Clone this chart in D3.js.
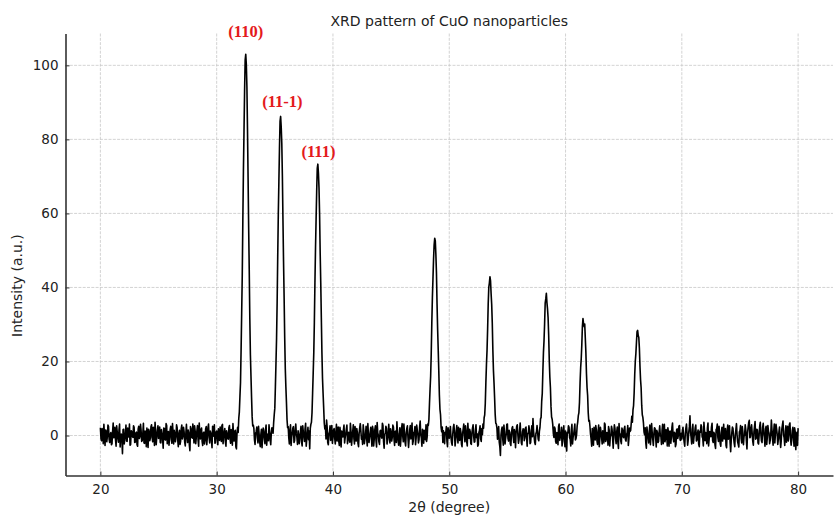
<!DOCTYPE html>
<html>
<head>
<meta charset="utf-8">
<script src="https://cdn.jsdelivr.net/npm/d3@7"></script>
<style>
  body { margin: 0; background: #fff; }
  text { font-family: "DejaVu Sans", sans-serif; }
</style>
</head>
<body>
<div id="chart"></div>
<script>
// 2theta sampling of the scan
var angleStart = 20, angleStep = 0.05;

// intensity (a.u.), one value per 0.05 degree, 10 per row
var int20s = [
  2.1,-0.8,-1.4,1.9,0.6,-2.2,3.0,0.4,-2.7,1.5,
  1.2,-1.7,-0.3,2.8,2.4,-1.0,-1.9,0.3,0.8,-2.5,
  -2.2,1.1,3.4,-0.6,0.1,2.2,-1.1,-2.9,2.6,0.9,
  -0.7,-1.8,1.5,3.1,-3.1,0.2,0.4,-1.3,-4.9,1.6,
  1.7,-2.3,-0.9,0.5,2.8,-1.5,-1.6,2.0,0.3,-0.4,
  3.1,-2.6,-2.4,1.3,1.0,-0.2,-0.5,2.6,2.2,-1.9,
  -1.8,0.7,0.9,-2.5,-2.9,1.8,2.5,-0.8,-0.2,3.0,
  1.4,-1.6,-1.3,0.6,3.3,-2.0,-2.1,1.2,0.7,-3.0,
  2.0,0.3,-3.2,1.7,1.1,-1.4,-0.6,2.4,2.9,-0.5,
  -1.7,2.2,0.2,-2.7,3.6,1.0,-2.5,-0.3,1.3,2.6,
  -0.8,0.4,2.3,-1.9,-2.0,1.6,0.5,-0.9,-3.4,2.0,
  1.9,-1.1,-1.2,3.2,2.7,-2.2,0.0,1.1,-2.6,-0.6,
  1.6,2.5,-1.0,-2.1,3.2,0.8,-2.3,1.4,0.6,-1.7,
  -0.4,2.9,2.1,-1.2,-3.0,0.5,1.4,-2.4,-1.5,1.8,
  2.8,-0.9,-0.1,2.2,1.0,-1.8,-2.8,0.6,3.0,-0.3,
  -1.9,1.5,0.8,-2.6,-4.1,2.4,1.8,-0.5,-0.7,3.1,
  0.4,-2.0,2.6,1.2,-2.2,-0.4,1.3,2.7,-1.1,-2.9,
  3.4,0.1,-0.9,1.6,2.0,-1.6,-2.7,0.7,0.9,-2.3,
  -1.4,1.8,2.4,-2.5,-0.3,2.1,3.1,-0.6,-2.0,1.2,
  0.6,-1.3,-3.3,2.5,1.7,-0.2,2.9,-2.1,-1.8,0.9
];
var int30s = [
  1.2,-0.6,-2.5,1.8,0.7,-1.3,2.3,0.1,-1.6,2.7,
  3.0,-2.2,-0.4,0.9,1.9,-1.8,-2.9,1.3,0.5,-0.8,
  -1.0,2.1,2.7,-0.9,-2.1,1.6,0.8,-2.6,3.2,0.3,
  -1.5,1.0,1.4,-3.1,-3.6,0.7,2.2,0.8,4.6,6.4,
  10.5,14.3,23.1,33.0,43.2,58.0,71.4,82.1,93.0,101.4,
  103.0,100.2,94.2,82.8,69.8,56.3,44.9,31.6,21.8,16.0,
  10.3,5.1,2.6,2.8,1.9,-1.2,-2.4,0.6,1.1,2.3,
  -0.6,-2.0,2.5,0.4,-1.8,-3.0,0.3,1.7,-3.3,-0.5,
  2.0,1.1,-0.9,-2.2,1.6,2.8,-2.6,-0.3,0.4,-1.4,
  2.9,0.9,-1.2,-2.5,0.8,2.1,1.9,0.6,3.5,5.6,
  7.4,13.3,19.6,26.2,36.0,48.4,59.8,68.7,77.5,84.9,
  86.2,83.3,78.9,70.2,58.2,47.0,37.3,26.4,18.1,13.2,
  9.0,4.3,2.1,2.4,-0.6,-2.3,1.5,2.9,-2.7,-0.4,
  0.6,2.0,2.4,-1.9,-1.4,1.2,3.1,0.5,-0.5,-2.4,
  1.3,0.2,-2.2,-0.7,0.9,2.5,-1.7,-2.8,2.6,1.0,
  -0.2,-1.6,1.8,3.3,-2.9,-0.9,0.4,2.2,-1.1,1.2,
  -3.6,1.9,3.0,3.6,6.2,11.5,16.8,22.3,30.5,41.4,
  50.7,58.4,65.9,72.2,73.3,70.9,66.9,59.8,49.4,41.3,
  31.8,22.4,15.5,11.4,7.6,3.5,1.8,2.6,-0.9,4.2,
  2.3,-1.9,-2.5,0.4,1.0,2.6,-1.3,-0.4,2.7,-2.1
];
var int40s = [
  -0.6,1.4,1.9,-0.7,-2.3,0.8,3.0,-1.5,0.2,2.3,
  -1.6,-2.7,2.2,0.6,-3.1,1.2,0.9,-0.4,1.5,2.8,
  -2.0,-0.6,0.5,1.7,2.8,-2.2,-1.2,0.9,-0.1,-1.8,
  3.3,1.1,-2.6,-0.5,1.1,2.9,-0.8,-2.3,2.4,0.2,
  -1.5,1.9,0.7,-2.1,-3.0,0.6,2.1,3.2,1.2,-1.0,
  -0.4,-2.4,2.9,1.3,-2.2,-0.9,0.3,2.5,-1.0,-2.8,
  3.2,0.4,-1.9,-0.6,0.8,2.2,-0.3,-2.9,2.5,1.6,
  -2.8,-1.0,1.6,2.6,-1.3,-3.1,3.5,0.8,0.1,-1.7,
  -2.4,1.2,1.4,-0.2,-0.7,3.3,2.7,-1.6,-3.4,0.3,
  0.6,2.5,1.9,-2.3,-1.1,0.9,3.0,-0.5,-2.0,1.8,
  0.9,-1.5,-0.5,2.8,2.3,-0.9,-2.7,1.1,1.2,-1.9,
  3.7,0.5,-1.4,-2.6,0.4,2.1,-2.9,-0.8,2.0,3.2,
  -0.2,-1.7,3.1,0.6,-1.8,-2.8,0.7,1.9,2.6,-0.6,
  -3.2,-1.0,1.5,2.7,-0.9,0.4,3.4,-2.4,-1.6,0.8,
  1.0,2.4,-2.5,-0.8,2.8,1.5,0.3,-2.0,-1.2,2.2,
  3.9,0.2,-0.6,-2.9,1.7,0.9,-2.1,1.4,0.5,-1.1,
  2.9,-1.6,-0.4,3.1,2.7,4.3,8.6,12.5,16.0,22.0,
  30.3,37.2,42.4,47.6,51.5,53.3,52.6,48.9,43.9,35.6,
  28.8,23.3,17.5,11.0,7.1,5.6,2.2,1.0,2.3,-1.9,
  1.3,-0.7,-2.2,0.9,0.6,2.4,-1.5,-3.0,2.1,0.4
];
var int50s = [
  -0.7,1.1,2.4,-0.5,-1.9,-2.6,0.3,2.2,3.0,0.8,
  -2.8,-1.2,1.2,2.7,-0.4,-2.0,2.2,0.5,-1.3,1.9,
  0.9,-2.3,-3.0,0.6,1.8,3.1,0.0,-1.7,2.6,1.2,
  -1.6,-2.8,3.3,0.4,-0.8,1.7,1.1,-2.1,-2.4,0.7,
  2.0,2.9,-0.2,-1.8,-1.7,1.5,2.9,-0.6,0.5,-2.9,
  -2.5,0.8,1.4,2.6,-0.9,-1.6,1.9,0.2,3.1,2.0,
  4.8,5.6,8.7,14.4,19.2,23.0,28.8,35.5,40.0,41.2,
  42.9,41.8,38.3,35.4,30.4,23.1,17.6,14.2,10.2,5.7,
  3.3,3.1,2.0,-1.0,0.9,2.4,-1.8,-3.0,-5.4,0.2,
  1.6,2.3,-1.0,-2.6,2.8,0.9,-2.3,-0.7,0.4,3.0,
  3.1,-0.8,-1.5,1.4,0.8,-2.2,-2.7,0.5,2.0,2.4,
  -0.3,-1.9,1.6,-0.1,-3.3,1.0,2.5,2.9,0.2,-2.1,
  -1.2,1.3,3.4,0.2,-2.0,-2.5,0.9,1.8,1.7,-1.4,
  -0.6,2.0,2.3,-0.5,-2.9,0.6,0.5,2.6,1.4,-2.2,
  -1.9,0.7,2.6,-0.3,4.6,1.2,-0.4,-1.9,-2.4,0.5,
  1.0,2.7,0.7,-1.0,-1.4,1.1,2.1,4.5,4.9,9.3,
  11.4,17.2,22.4,25.6,30.2,35.8,36.9,38.4,35.9,34.2,
  31.8,27.1,20.5,15.8,12.9,7.8,5.0,4.4,3.0,0.6,
  -0.5,2.3,1.8,-1.6,-2.1,0.8,0.6,-2.5,2.4,3.1,
  -1.3,-0.4,0.2,2.2,-2.8,-1.5,1.5,2.6,-0.9,-3.0
];
var int60s = [
  1.2,-2.4,-4.2,0.9,0.7,2.6,2.2,-0.6,-1.0,-2.8,
  1.6,3.0,-2.3,-0.5,0.4,1.7,3.1,-1.2,-0.8,0.2,
  2.6,3.7,5.4,6.2,9.0,14.3,18.3,20.8,24.6,29.5,
  31.6,30.2,29.4,30.1,26.3,22.4,16.7,12.9,10.8,6.2,
  3.9,4.1,2.5,0.3,-0.9,-2.9,1.9,0.6,-2.6,2.2,
  0.3,-1.2,2.7,1.5,-1.4,-2.4,1.0,2.8,-3.0,-0.7,
  2.2,1.0,-0.5,-2.3,1.3,0.4,-2.0,3.4,3.0,-1.6,
  -1.1,0.8,0.6,-2.6,2.4,1.6,-2.8,-0.4,0.1,2.5,
  1.7,-0.9,-3.4,0.5,2.9,1.9,-0.7,-2.2,1.0,2.3,
  -1.8,-3.5,3.2,0.7,0.4,-1.5,-2.2,2.0,1.5,-0.3,
  -0.6,1.9,2.5,-1.1,-1.5,0.3,0.8,2.7,-2.7,-0.9,
  2.0,1.1,1.4,3.3,5.2,3.6,6.9,8.1,11.5,16.5,
  20.1,22.2,25.2,28.1,28.4,27.0,26.5,23.6,18.8,15.1,
  12.9,8.2,5.6,4.9,3.4,0.9,0.2,2.1,-1.9,-3.4,
  2.3,0.6,-0.4,-2.0,1.1,2.8,-2.5,-0.3,3.2,0.9,
  -1.0,-2.7,0.5,2.1,1.9,-0.6,-3.1,1.4,0.8,-1.9,
  -1.6,0.9,2.6,-0.1,-0.2,-2.4,1.4,3.0,-2.2,0.2,
  3.0,-1.7,-0.8,1.6,0.3,-2.8,2.1,0.8,-2.9,1.1,
  1.2,-2.1,-0.6,2.2,3.4,-0.3,-1.7,0.9,0.7,-3.0,
  -2.4,1.5,1.8,-0.8,0.0,2.5,2.7,-1.2,-1.3,0.6
];
var int70s = [
  -0.9,1.3,2.2,-0.4,-1.8,-2.9,0.6,2.0,3.1,0.5,
  -2.6,-1.1,1.0,2.4,5.3,0.8,-0.5,-2.3,1.7,3.0,
  -2.1,-0.3,0.4,2.1,2.8,-1.5,-1.2,0.6,1.5,-2.4,
  -3.0,1.2,0.9,2.9,2.4,-0.4,-0.7,-2.8,3.6,1.3,
  -1.4,0.8,0.2,-2.2,2.0,3.4,-2.8,-1.0,1.1,0.5,
  -0.3,2.3,3.3,-1.4,-1.9,0.9,0.5,-2.5,-3.5,1.6,
  1.8,3.1,-0.6,-1.6,2.5,0.4,-2.2,-2.9,0.7,2.2,
  -1.5,0.3,3.0,-0.9,-0.1,1.9,-2.7,-3.3,1.4,2.8,
  -1.0,0.5,2.6,-1.8,-4.4,-1.2,0.8,2.3,1.9,-0.5,
  -2.0,-3.0,0.2,1.6,3.2,0.1,-1.7,-2.4,-3.1,1.0,
  1.3,2.7,-0.8,-2.0,2.4,0.9,-2.5,-0.2,0.1,2.9,
  1.6,-1.4,-3.6,0.7,2.2,3.5,4.1,-0.6,-0.4,2.0,
  2.9,0.6,-1.6,-2.6,0.9,2.4,3.8,-1.0,-0.7,1.7,
  1.5,-2.0,-2.3,0.3,2.6,3.6,0.3,-1.5,-1.9,2.2,
  3.3,0.8,-0.5,-2.9,1.8,2.5,-2.4,-0.6,2.7,1.2,
  0.6,-2.2,-1.3,0.4,4.2,1.7,-0.9,-2.6,1.1,3.1,
  -2.0,0.5,3.0,1.8,0.4,-2.4,-1.1,0.9,2.3,-0.8,
  -3.2,-1.3,1.7,2.8,3.9,0.2,-0.6,-2.7,1.0,2.6,
  -1.8,0.7,2.5,-1.5,0.2,3.0,3.4,-0.9,-2.6,-1.2,
  1.3,2.2,-0.4,-2.9,2.1,1.0,-3.8,-0.5,0.9,-2.7,
  2.0
];

// tick values
var xTicks = [20, 30, 40, 50, 60, 70, 80];
var yTicks = [0, 20, 40, 60, 80, 100];

// peak annotations (Miller indices)
var peakLabels = ["(110)", "(11-1)", "(111)"];
var peakLabelAngle = [32.5, 35.65, 38.75];
var peakLabelValue = [107.6, 88.8, 75.3];

var intensity = [].concat(int20s, int30s, int40s, int50s, int60s, int70s);
var data = intensity.map(function(v, i) {
  return { angle: angleStart + i * angleStep, value: v };
});

var W = 835, H = 518;
var margin = {top: 33.5, right: 2, bottom: 42.5, left: 65.5};
var width = W - margin.left - margin.right,
    height = H - margin.top - margin.bottom;

var svg = d3.select("#chart").append("svg")
    .attr("width", W).attr("height", H);

var x = d3.scaleLinear().domain([17, 83]).range([0, width]);
var y = d3.scaleLinear().domain([-10.8, 108.6]).range([height, 0]);

var g = svg.append("g")
    .attr("transform", "translate(" + margin.left + "," + margin.top + ")");

// grid
g.append("g").attr("class", "grid")
  .selectAll("line.gx").data(xTicks).enter().append("line")
  .attr("x1", function(d) { return x(d); }).attr("x2", function(d) { return x(d); })
  .attr("y1", 0).attr("y2", height)
  .attr("stroke", "#c8c8c8").attr("stroke-width", 0.8).attr("stroke-dasharray", "3,1.3");
g.append("g").attr("class", "grid")
  .selectAll("line.gy").data(yTicks).enter().append("line")
  .attr("y1", function(d) { return y(d); }).attr("y2", function(d) { return y(d); })
  .attr("x1", 0).attr("x2", width)
  .attr("stroke", "#c8c8c8").attr("stroke-width", 0.8).attr("stroke-dasharray", "3,1.3");

// trace
var line = d3.line()
    .x(function(d) { return x(d.angle); })
    .y(function(d) { return y(d.value); });

g.append("path")
  .datum(data)
  .attr("fill", "none")
  .attr("stroke", "#000")
  .attr("stroke-width", 1.6)
  .attr("stroke-linejoin", "round")
  .attr("d", line);

// axes, ticks pointing inward
var xAxis = g.append("g")
    .attr("transform", "translate(0," + height + ")")
    .call(d3.axisBottom(x).tickValues(xTicks).tickSizeInner(-4).tickSizeOuter(0).tickPadding(9));
var yAxis = g.append("g")
    .call(d3.axisLeft(y).tickValues(yTicks).tickSizeInner(-4).tickSizeOuter(0).tickPadding(7));

[xAxis, yAxis].forEach(function(a) {
  a.select(".domain").attr("stroke", "#333").attr("stroke-width", 1.6);
  a.selectAll(".tick line").attr("stroke", "#333").attr("stroke-width", 1);
  a.selectAll(".tick text")
    .attr("font-family", "DejaVu Sans, sans-serif")
    .attr("font-size", "13.5px").attr("fill", "#222");
});

// peak labels
g.selectAll(".peak")
  .data(peakLabels)
  .enter().append("text")
  .attr("class", "peak")
  .attr("x", function(d, i) { return x(peakLabelAngle[i]); })
  .attr("y", function(d, i) { return y(peakLabelValue[i]); })
  .attr("text-anchor", "middle")
  .style("font-family", "Liberation Serif, serif")
  .style("font-weight", "bold")
  .style("font-size", "16.5px")
  .attr("fill", "#e41a1c")
  .text(function(d) { return d; });

// title and axis labels
svg.append("text")
  .attr("x", margin.left + width / 2).attr("y", 26)
  .attr("text-anchor", "middle")
  .attr("font-size", "14px").attr("fill", "#222")
  .text("XRD pattern of CuO nanoparticles");

svg.append("text")
  .attr("x", margin.left + x(50)).attr("y", 512)
  .attr("text-anchor", "middle")
  .attr("font-size", "14px").attr("fill", "#222")
  .text("2θ (degree)");

svg.append("text")
  .attr("transform", "translate(22," + (margin.top + y(40.5)) + ") rotate(-90)")
  .attr("text-anchor", "middle")
  .attr("font-size", "14px").attr("fill", "#222")
  .text("Intensity (a.u.)");
</script>
</body>
</html>
